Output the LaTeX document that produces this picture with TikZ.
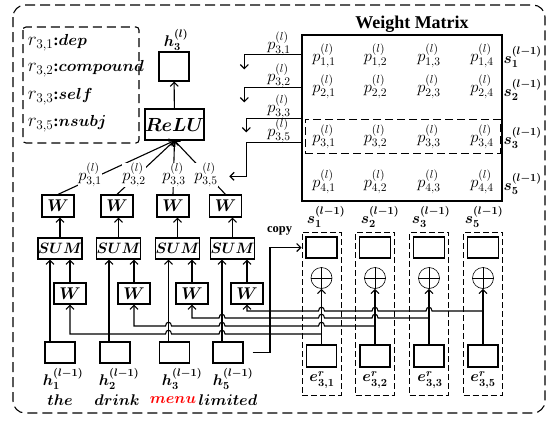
\RequirePackage{fix-cm}
\documentclass[tikz,border=0pt]{standalone}
\usepackage[no-math]{fontspec}
\setmainfont{Liberation Serif}
\usepackage{amsmath}
\usepackage{amssymb}
\usetikzlibrary{arrows.meta}

\newcommand{\hop}[2]{-- (#1+3,#2) .. controls (#1+3,#2-5) and (#1-3,#2-5) .. (#1-3,#2)}

\begin{document}
\begin{tikzpicture}[x=1pt,y=-1pt,line width=1.1pt,>={Straight Barb[length=4pt,width=8pt]}]
\tikzset{box/.style={draw,line width=1.2pt,inner sep=0pt,minimum width=30pt,minimum height=21pt},
  wbox/.style={box,minimum width=32pt,minimum height=22pt,font=\fontsize{17}{17}\selectfont\boldmath},
  sumbox/.style={box,minimum width=39pt,font=\fontsize{15}{15}\selectfont\boldmath},
  colbox/.style={draw,dash pattern=on 6pt off 3pt,line width=1pt,minimum width=39pt,minimum height=163pt,inner sep=0pt},
  plab/.style={font=\fontsize{16.5}{16.5}\selectfont,inner sep=0.5pt},
  leg/.style={anchor=west,font=\fontsize{16}{16}\selectfont},
  blab/.style={font=\fontsize{15.5}{15.5}\selectfont\boldmath,inner sep=0pt},
  word/.style={font=\fontsize{15.5}{15.5}\selectfont\boldmath,inner sep=0pt},
  circ/.style={draw,circle,line width=0.6pt,minimum size=21pt,inner sep=0pt}}

\useasboundingbox (0,0) rectangle (549,421);
\draw[dash pattern=on 10pt off 5pt,rounded corners=12pt] (13,5) rectangle (545,413);

% legend
\draw[dash pattern=on 9pt off 5pt,rounded corners=3pt] (23,27) rectangle (139,143);
\node[leg] (r1) at (24,43) {{\fontsize{19}{19}\selectfont$r_{3,1}$}\textbf{:}$\boldsymbol{dep}$};
\node[leg] (r2) at (24,69) {{\fontsize{19}{19}\selectfont$r_{3,2}$}\textbf{:}$\boldsymbol{compound}$};
\node[leg] (r3) at (24,97) {{\fontsize{19}{19}\selectfont$r_{3,3}$}\textbf{:}$\boldsymbol{self}$};
\node[leg] (r5) at (24,124) {{\fontsize{19}{19}\selectfont$r_{3,5}$}\textbf{:}$\boldsymbol{nsubj}$};

% output and relu
\path (174,66.5) node[box,minimum height=29pt] (hout) {};
\node[blab] (houtl) at (176,40) {$h_3^{(l)}$};
\path (174.5,124.5) node[box,minimum width=51pt,minimum height=31pt,font=\fontsize{19}{19}\selectfont\boldmath] (relu) {$ReLU$};
\draw[->] (relu) -- (hout);

% top W
\path (58,206) node[wbox] (wt1) {$W$};
\path (117,206) node[wbox] (wt2) {$W$};
\path (173,206) node[wbox] (wt3) {$W$};
\path (225.5,206) node[wbox] (wt5) {$W$};

% SUM
\path (60,248.5) node[sumbox,minimum width=44pt] (sum1) {$SUM$};
\path (118.5,248.5) node[sumbox] (sum2) {$SUM$};
\path (177.5,248.5) node[sumbox] (sum3) {$SUM$};
\path (232.5,248.5) node[sumbox] (sum5) {$SUM$};

% lower W
\path (70,293.5) node[wbox,minimum height=21pt] (wb1) {$W$};
\path (134,293.5) node[wbox,minimum height=21pt] (wb2) {$W$};
\path (192,293.5) node[wbox,minimum height=21pt] (wb3) {$W$};
\path (247,293.5) node[wbox,minimum height=21pt] (wb5) {$W$};

% h boxes
\path (60,352.5) node[box] (hb1) {};
\path (115,352.5) node[box] (hb2) {};
\path (174.5,352.5) node[box] (hb3) {};
\path (228,352.5) node[box] (hb5) {};
\node[blab] (hl1) at (63,379) {$h_1^{(l-1)}$};
\node[blab] (hl2) at (119,379) {$h_2^{(l-1)}$};
\node[blab] (hl3) at (182,379) {$h_3^{(l-1)}$};
\node[blab] (hl5) at (233,379) {$h_5^{(l-1)}$};
\node[word] (w1) at (60,400) {$the$};
\node[word] (w2) at (117,400) {$drink$};
\node[word,text=red] (w3) at (173,400) {$menu$};
\node[word] (w5) at (228,400) {$limited$};

\draw[->] (sum1.north) -- (sum1.north |- wt1.south);
\draw[->] (sum2.north) -- (sum2.north |- wt2.south);
\draw[->] (sum3.north) -- (sum3.north |- wt3.south);
\draw[->] (sum5.north) -- (sum5.north |- wt5.south);
\draw[->] (wb1.north) -- (wb1.north |- sum1.south);
\draw[->] (wb2.north) -- (wb2.north |- sum2.south);
\draw[->] (wb3.north) -- (wb3.north |- sum3.south);
\draw[->] (wb5.north) -- (wb5.north |- sum5.south);
\draw[->] ([xshift=-10pt]hb1.north) -- ([xshift=-10pt]hb1.north |- sum1.south);
\draw[->] ([xshift=-6pt]hb2.north) -- ([xshift=-6pt]hb2.north |- sum2.south);
\draw[->] ([xshift=-6pt]hb3.north) -- ([xshift=-6pt]hb3.north |- sum3.south);
\draw[->] ([xshift=-6pt]hb5.north) -- ([xshift=-6pt]hb5.north |- sum5.south);

% weighted inputs of relu
\draw[->] (wt1.north) -- (relu.south);
\draw[->] (wt2.north) -- (relu.south);
\draw[->] (wt3.north) -- (relu.south);
\draw[->] (wt5.north) -- (relu.south);
\node[plab,fill=white] (p31) at (90,175) {$p^{(l)}_{3,1}$};
\node[plab,fill=white] (p32) at (134,175) {$p^{(l)}_{3,2}$};
\node[plab,fill=white] (p33) at (174,175) {$p^{(l)}_{3,3}$};
\node[plab,fill=white] (p35) at (206,175) {$p^{(l)}_{3,5}$};

% weight matrix
\path (402,118) node[draw,line width=1.3pt,minimum width=200pt,minimum height=166pt] (wm) {};
\node[font=\fontsize{18}{18}\selectfont\bfseries] (wmt) at (412,24) {Weight Matrix};
\path (402.5,136) node[draw,dash pattern=on 8pt off 4pt,line width=1pt,minimum width=195pt,minimum height=34pt] (row3) {};
\path (324,56) node[plab] (m11) {$p^{(l)}_{1,1}$};
\path (375.5,56) node[plab] (m12) {$p^{(l)}_{1,2}$};
\path (429,56) node[plab] (m13) {$p^{(l)}_{1,3}$};
\path (482,56) node[plab] (m14) {$p^{(l)}_{1,4}$};
\path (324,87) node[plab] (m21) {$p^{(l)}_{2,1}$};
\path (375.5,87) node[plab] (m22) {$p^{(l)}_{2,2}$};
\path (429,87) node[plab] (m23) {$p^{(l)}_{2,3}$};
\path (482,87) node[plab] (m24) {$p^{(l)}_{2,4}$};
\path (324,137) node[plab] (m31) {$p^{(l)}_{3,1}$};
\path (375.5,137) node[plab] (m32) {$p^{(l)}_{3,2}$};
\path (429,137) node[plab] (m33) {$p^{(l)}_{3,3}$};
\path (482,137) node[plab] (m34) {$p^{(l)}_{3,4}$};
\path (324,182) node[plab] (m41) {$p^{(l)}_{4,1}$};
\path (375.5,182) node[plab] (m42) {$p^{(l)}_{4,2}$};
\path (429,182) node[plab] (m43) {$p^{(l)}_{4,3}$};
\path (482,182) node[plab] (m44) {$p^{(l)}_{4,4}$};
\node[blab,anchor=west] (sr1) at (503,57) {$s_1^{(l-1)}$};
\node[blab,anchor=west] (sr2) at (503,90) {$s_2^{(l-1)}$};
\node[blab,anchor=west] (sr3) at (503,138) {$s_3^{(l-1)}$};
\node[blab,anchor=west] (sr5) at (503,184) {$s_5^{(l-1)}$};

% row 3 read out to the left
\node[plab] (q31) at (279,44) {$p^{(l)}_{3,1}$};
\node[plab] (q32) at (279,76) {$p^{(l)}_{3,2}$};
\node[plab] (q33) at (279,107) {$p^{(l)}_{3,3}$};
\node[plab] (q35) at (279,131) {$p^{(l)}_{3,5}$};
\draw[->] ([yshift=-20pt]wm.north west) -- ++(-57,0) -- ++(0,15);
\draw[->] ([yshift=-53pt]wm.north west) -- ++(-57,0) -- ++(0,15);
\draw[->] ([yshift=-84pt]wm.north west) -- ++(-55,0) -- ++(0,14);
\draw[->] ([yshift=-108pt]wm.north west) -- ++(-55,0) -- ++(0,34) -- ++(-17,0);

% relation columns
\path (321.5,313.5) node[colbox] (c1) {};
\path (375,313.5) node[colbox] (c2) {};
\path (429,313.5) node[colbox] (c3) {};
\path (483,313.5) node[colbox] (c5) {};
\path (321.5,247.5) node[box,minimum width=31pt] (sb1) {};
\path (375,247.5) node[box,minimum width=31pt] (sb2) {};
\path (429,247.5) node[box,minimum width=31pt] (sb3) {};
\path (483,247.5) node[box,minimum width=31pt] (sb5) {};
\node[blab] (sl1) at (326,217) {$s_1^{(l-1)}$};
\node[blab] (sl2) at (380,217) {$s_2^{(l-1)}$};
\node[blab] (sl3) at (431,217) {$s_3^{(l-1)}$};
\node[blab] (sl5) at (484,217) {$s_5^{(l-1)}$};
\path (321.5,278) node[circ] (o1) {};
\path (375,278) node[circ] (o2) {};
\path (429,278) node[circ] (o3) {};
\path (483,278) node[circ] (o5) {};
\draw[line width=0.6pt] (o1.north) -- (o1.south) (o1.west) -- (o1.east);
\draw[line width=0.6pt] (o2.north) -- (o2.south) (o2.west) -- (o2.east);
\draw[line width=0.6pt] (o3.north) -- (o3.south) (o3.west) -- (o3.east);
\draw[line width=0.6pt] (o5.north) -- (o5.south) (o5.west) -- (o5.east);
\path (321.5,356) node[box,minimum height=22pt] (eb1) {};
\path (375,356) node[box,minimum height=22pt] (eb2) {};
\path (429,356) node[box,minimum height=22pt] (eb3) {};
\path (483,356) node[box,minimum height=22pt] (eb5) {};
\node[blab] (el1) at (322,380) {$e^{r}_{3,1}$};
\node[blab] (el2) at (375,380) {$e^{r}_{3,2}$};
\node[blab] (el3) at (430,380) {$e^{r}_{3,3}$};
\node[blab] (el5) at (483,380) {$e^{r}_{3,5}$};
\draw[->] (eb1.north) -- (o1.south);
\draw[->] (eb2.north) -- (o2.south);
\draw[->] (eb3.north) -- (o3.south);
\draw[->] (eb5.north) -- (o5.south);

% relation embeddings back to the W boxes
\coordinate (j1) at (321.5,334);
\coordinate (j2) at (375,326);
\coordinate (j3) at (429,318);
\coordinate (j5) at (483,311);
\draw[->] (j1) \hop{222}{334} \hop{168.5}{334} -| (wb1.south);
\draw[->] (j2) \hop{321.5}{326} \hop{222}{326} \hop{168.5}{326} -| (wb2.south);
\draw[->] (j3) \hop{375}{318} \hop{321.5}{318} \hop{222}{318} -| (wb3.south);
\draw[->] (j5) \hop{429}{311} \hop{375}{311} \hop{321.5}{311} -| (wb5.south);

% copy
\coordinate (cp) at (270,247.5);
\draw[->] ([xshift=9pt]hb5.east) -| (cp) -- (sb1.west -| c1.west);
\node[font=\fontsize{12.5}{12.5}\selectfont\bfseries] (cpl) at (279.5,231) {copy};
\end{tikzpicture}
\end{document}
